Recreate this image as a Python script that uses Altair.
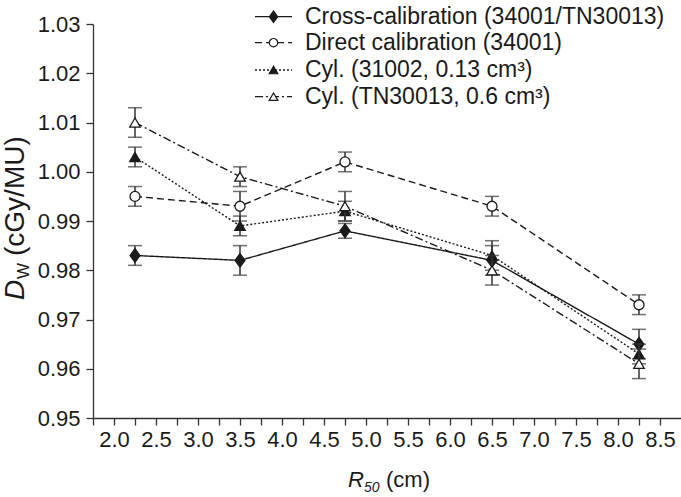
import altair as alt
import pandas as pd

# Electron beam quality (R50, cm) at which each dose value was measured
r50 = [2.25, 3.5, 4.75, 6.5, 8.25]

series_names = [
    "Cross-calibration (34001/TN30013)",
    "Direct calibration (34001)",
    "Cyl. (31002, 0.13 cm³)",
    "Cyl. (TN30013, 0.6 cm³)",
]

# Absorbed dose to water per monitor unit (cGy/MU) and its uncertainty
cross_dw = [0.983, 0.982, 0.988, 0.982, 0.965]
cross_err = [0.002, 0.003, 0.0015, 0.003, 0.003]

direct_dw = [0.995, 0.993, 1.002, 0.993, 0.973]
direct_err = [0.002, 0.003, 0.002, 0.002, 0.002]

cyl31002_dw = [1.003, 0.989, 0.992, 0.983, 0.963]
cyl31002_err = [0.002, 0.002, 0.002, 0.003, 0.002]

cyl30013_dw = [1.010, 0.999, 0.993, 0.980, 0.961]
cyl30013_err = [0.003, 0.002, 0.003, 0.003, 0.003]

y_ticks = [0.95, 0.96, 0.97, 0.98, 0.99, 1.00, 1.01, 1.02, 1.03]
x_ticks = [1.75 + 0.25 * i for i in range(28)]

FONT = "Liberation Sans"
INK = "#1a1a1a"
AXIS_INK = "#333333"

# marker shape, fill, line dash for each series
diamond = "M0,-1.25L0.9,0L0,1.25L-0.9,0Z"
styles = [
    dict(shape=diamond, fill=INK, dash=[1, 0], size=120, lsize=85),
    dict(shape="circle", fill="white", dash=[7, 4], size=100, lsize=70),
    dict(shape="triangle-up", fill=INK, dash=[2, 2], size=110, lsize=75),
    dict(shape="triangle-up", fill="white", dash=[8, 3, 2, 3], size=110, lsize=75),
]
values = [cross_dw, direct_dw, cyl31002_dw, cyl30013_dw]
errors = [cross_err, direct_err, cyl31002_err, cyl30013_err]

x_scale = alt.Scale(domain=[1.75, 8.75], nice=False, zero=False)
y_scale = alt.Scale(domain=[0.95, 1.03], nice=False, zero=False)

x_axis = alt.Axis(
    values=x_ticks,
    labelExpr="datum.value >= 2 && datum.value % 0.5 == 0 ? format(datum.value, '.1f') : ''",
    title=None,
    labelFontSize=22,
    labelPadding=4,
    tickSize=7,
)
y_axis = alt.Axis(
    values=y_ticks,
    format=".2f",
    title=None,
    labelFontSize=22,
    labelPadding=6,
    tickSize=7,
)

layers = []
legend_rows = [-7.3, 18.7, 46.0, 72.7]

for name, vals, errs, st, ly in zip(series_names, values, errors, styles, legend_rows):
    df = pd.DataFrame({
        "r50": r50,
        "dw": vals,
        "lo": [v - e for v, e in zip(vals, errs)],
        "hi": [v + e for v, e in zip(vals, errs)],
    })
    base = alt.Chart(df)
    X = alt.X("r50:Q", scale=x_scale, axis=x_axis)

    line = base.mark_line(color=INK, strokeWidth=1.4, strokeDash=st["dash"]).encode(
        x=X, y=alt.Y("dw:Q", scale=y_scale, axis=y_axis)
    )
    bar = base.mark_rule(color=AXIS_INK, strokeWidth=1.5).encode(
        x=X, y=alt.Y("lo:Q", scale=y_scale, axis=y_axis), y2="hi:Q"
    )
    cap_lo = base.mark_tick(orient="horizontal", color=AXIS_INK, size=14, thickness=1.5).encode(
        x=X, y=alt.Y("lo:Q", scale=y_scale, axis=y_axis)
    )
    cap_hi = base.mark_tick(orient="horizontal", color=AXIS_INK, size=14, thickness=1.5).encode(
        x=X, y=alt.Y("hi:Q", scale=y_scale, axis=y_axis)
    )
    pts = base.mark_point(
        shape=st["shape"], filled=True, fill=st["fill"], stroke=INK,
        strokeWidth=1.3, size=st["size"], opacity=1,
    ).encode(x=X, y=alt.Y("dw:Q", scale=y_scale, axis=y_axis))
    layers += [line, bar, cap_lo, cap_hi, pts]

    # legend entry: dashed segment, marker, label
    lg = alt.Chart(pd.DataFrame({"label": [name]}))
    layers.append(
        lg.mark_rule(color=INK, strokeWidth=1.3, strokeDash=st["dash"]).encode(
            x=alt.value(162), x2=alt.value(199), y=alt.value(ly)
        )
    )
    layers.append(
        lg.mark_point(
            shape=st["shape"], filled=True, fill=st["fill"], stroke=INK,
            strokeWidth=1.2, size=st["lsize"], opacity=1,
        ).encode(x=alt.value(180.5), y=alt.value(ly))
    )
    layers.append(
        lg.mark_text(align="left", baseline="middle", font=FONT, fontSize=23, color=INK).encode(
            x=alt.value(212), y=alt.value(ly), text="label:N"
        )
    )

# axis titles built from pieces so the symbols can be italic with subscripts
def piece(txt, x, y, size=22, style="normal", angle=0):
    params = dict(align="left", baseline="alphabetic", font=FONT, fontSize=size,
                  fontStyle=style, color=INK)
    if angle:
        params["angle"] = angle
    return alt.Chart(pd.DataFrame({"t": [txt]})).mark_text(**params).encode(
        x=alt.value(x), y=alt.value(y), text="t:N"
    )

layers += [
    piece("R", 255, 463, style="italic"),
    piece("50", 271, 468, size=14, style="italic"),
    piece("(cm)", 293, 463),
    piece("D", -69, 276, size=28, style="italic", angle=270),
    piece("W", -64, 255, size=17, angle=270),
    piece("(cGy/MU)", -69, 232, size=28, angle=270),
]

chart = alt.layer(*layers).properties(
    width=588,
    height=394,
    padding={"left": 93, "top": 24, "right": 0, "bottom": 79},
    autosize=alt.AutoSizeParams(type="none"),
).configure_view(stroke=None).configure_axis(
    grid=False,
    domainColor=AXIS_INK,
    domainWidth=1.3,
    tickColor=AXIS_INK,
    tickWidth=1.3,
    labelColor=INK,
    labelFont=FONT,
)

chart.save("out.html", embed_options={"renderer": "svg", "actions": False})
